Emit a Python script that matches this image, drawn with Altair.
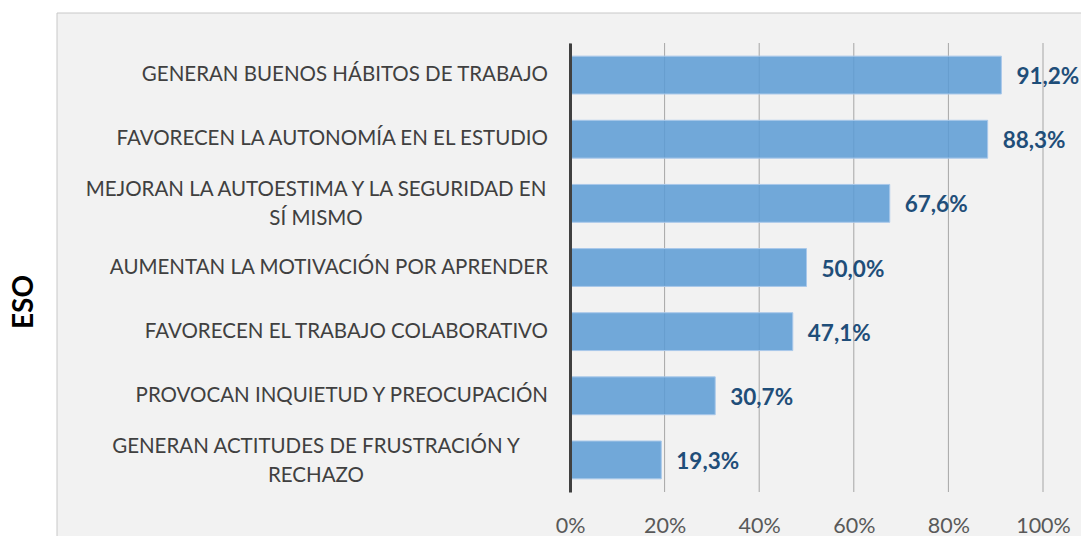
import altair as alt
import pandas as pd

categories = [
    "GENERAN BUENOS HÁBITOS DE TRABAJO",
    "FAVORECEN LA AUTONOMÍA EN EL ESTUDIO",
    "MEJORAN LA AUTOESTIMA Y LA SEGURIDAD EN SÍ MISMO",
    "AUMENTAN LA MOTIVACIÓN POR APRENDER",
    "FAVORECEN EL TRABAJO COLABORATIVO",
    "PROVOCAN INQUIETUD Y PREOCUPACIÓN",
    "GENERAN ACTITUDES DE FRUSTRACIÓN Y RECHAZO",
]
label_lines = [
    "GENERAN BUENOS HÁBITOS DE TRABAJO",
    "FAVORECEN LA AUTONOMÍA EN EL ESTUDIO",
    "MEJORAN LA AUTOESTIMA Y LA SEGURIDAD EN\nSÍ MISMO",
    "AUMENTAN LA MOTIVACIÓN POR APRENDER",
    "FAVORECEN EL TRABAJO COLABORATIVO",
    "PROVOCAN INQUIETUD Y PREOCUPACIÓN",
    "GENERAN ACTITUDES DE FRUSTRACIÓN Y\nRECHAZO",
]
values = [91.2, 88.3, 67.6, 50.0, 47.1, 30.7, 19.3]
tick_values = [0, 20, 40, 60, 80, 100]
group_title = ["ESO"]

FONT = "Lato"

df = pd.DataFrame({"cat": categories, "label": label_lines, "value": values})
ticks_df = pd.DataFrame({"t": tick_values})
title_df = pd.DataFrame({"g": group_title})

x_scale = alt.Scale(domain=[0, 100], nice=False, zero=True)
y_scale = alt.Scale(domain=categories, paddingInner=0.41, paddingOuter=0.205)

x_axis = alt.Axis(
    values=tick_values, labelExpr="datum.value + '%'", title=None, grid=False,
    domain=False, ticks=False, tickSize=0, labelPadding=34, labelBaseline="middle",
    labelAlign="center", labelFlush=False, labelOverlap=False,
    labelFont=FONT, labelFontSize=21.5, labelColor="#595959", zindex=1,
)
y_axis = alt.Axis(
    labels=False, ticks=False, grid=False, domain=True, domainColor="#404040",
    domainWidth=3, title=None, zindex=1,
)

panel = alt.Chart(alt.Data(values=[{"p": 1}])).mark_rect(
    fill="#f2f2f2", stroke="#c8c8c8", strokeWidth=1
).encode(
    x=alt.value(-513), x2=alt.value(700), y=alt.value(-30), y2=alt.value(700)
)

grid = alt.Chart(ticks_df).mark_rule(color="#a6a6a6", strokeWidth=1).encode(
    x=alt.X("t:Q", scale=x_scale, axis=x_axis)
)

base = alt.Chart(df)

bars = base.mark_bar(
    fill="#5b9bd5", fillOpacity=0.85, stroke="#a9c8ea", strokeWidth=1
).encode(
    x=alt.X("value:Q", scale=x_scale, axis=x_axis),
    y=alt.Y("cat:N", scale=y_scale, axis=y_axis, sort=categories),
)

value_text = base.transform_calculate(
    txt="replace(format(datum.value, '.1f'), '.', ',') + '%'"
).mark_text(
    align="left", baseline="middle", dx=15, dy=2, font=FONT, fontSize=22.5,
    fontWeight="bold", color="#1f4e79"
).encode(
    x=alt.X("value:Q", scale=x_scale),
    y=alt.Y("cat:N", scale=y_scale, sort=categories),
    text="txt:N",
)

single_labels = base.transform_filter("indexof(datum.label, '\\n') < 0").mark_text(
    align="right", baseline="middle", font=FONT, fontSize=20.5, color="#404040"
).encode(
    x=alt.value(-22),
    y=alt.Y("cat:N", scale=y_scale, sort=categories),
    text="label:N",
)

multi_labels = base.transform_filter("indexof(datum.label, '\\n') >= 0").mark_text(
    align="center", baseline="middle", font=FONT, fontSize=20.5, color="#404040",
    lineBreak="\n", lineHeight=29, dy=-13
).encode(
    x=alt.value(-254),
    y=alt.Y("cat:N", scale=y_scale, sort=categories),
    text="label:N",
)

side_title = alt.Chart(title_df).mark_text(
    align="center", baseline="middle", angle=270, font=FONT, fontSize=28,
    fontWeight="bold", color="#000000"
).encode(
    x=alt.value(-545), y=alt.value(259), text="g:N"
)

chart = alt.layer(
    panel, grid, bars, value_text, single_labels, multi_labels, side_title
).properties(
    width=473, height=449,
    autosize=alt.AutoSizeParams(type="none"),
    padding={"left": 562, "top": 35, "right": 38, "bottom": 44},
    background="#ffffff",
).configure_view(stroke=None)

chart.save("out.html", embed_options={"renderer": "svg", "actions": False})
